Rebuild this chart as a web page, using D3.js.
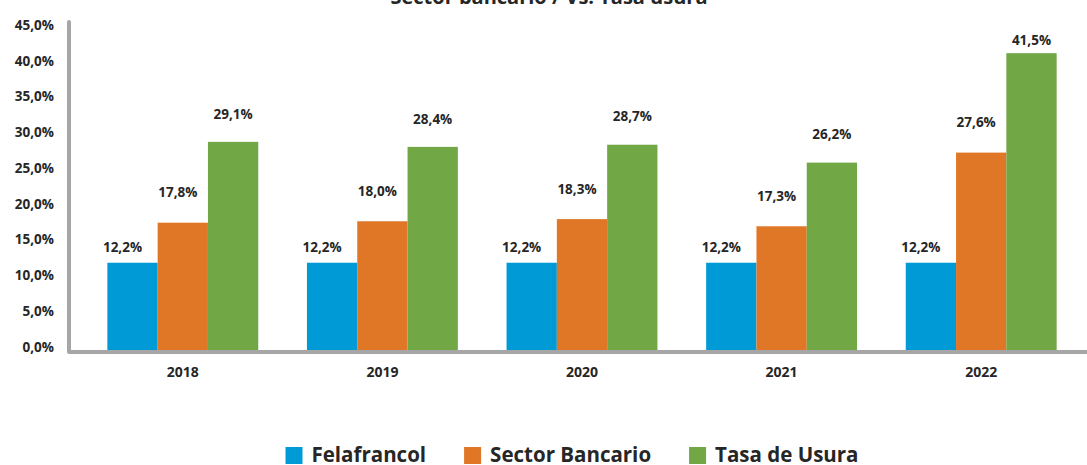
<!DOCTYPE html>
<html>
<head>
<meta charset="utf-8">
<script src="https://cdn.jsdelivr.net/npm/d3@7"></script>
<style>
  body { margin: 0; background: #fff; }
  text { font-family: "Open Sans", sans-serif; fill: #262626; }
</style>
</head>
<body>
<div id="container"></div>
<script>
const WIDTH = 1087;
const HEIGHT = 465;

// datos
const years = ['2018', '2019', '2020', '2021', '2022'];
const series = ['Felafrancol', 'Sector Bancario', 'Tasa de Usura'];
const felafrancol = [12.2, 12.2, 12.2, 12.2, 12.2];
const sectorBancario = [17.8, 18.0, 18.3, 17.3, 27.6];
const tasaUsura = [29.1, 28.4, 28.7, 26.2, 41.5];
const yTicks = [0, 5, 10, 15, 20, 25, 30, 35, 40, 45];
const title = 'Sector bancario / Vs. Tasa usura';

const COLORS = ['#009BD6', '#E07726', '#71A744'];
const LABEL_DX = [-10, -5, 0];
const LABEL_DY = [15, 30, 28];

const values = [felafrancol, sectorBancario, tasaUsura];
const rows = years.map((year, i) => ({
  year,
  vals: series.map((s, j) => ({ s, j, v: values[j][i] }))
}));

const fmt = v => d3.format('.1f')(v).replace('.', ',') + '%';

const svg = d3.select('#container')
  .append('svg')
    .attr('width', WIDTH)
    .attr('height', HEIGHT);

const x0 = d3.scaleBand().domain(years).range([83, 1081]);
const x1 = d3.scaleBand().domain(series)
  .range([x0.bandwidth() * 0.122, x0.bandwidth() * 0.878]);
const y = d3.scaleLinear().domain([0, 46]).range([350, 21]);

// titulo (cortado arriba)
svg.append('text')
  .attr('x', 549)
  .attr('y', 4)
  .attr('text-anchor', 'middle')
  .style('font-size', '20px')
  .style('font-weight', 700)
  .text(title);

// etiquetas eje y
svg.append('g')
  .selectAll('text')
  .data(yTicks)
  .join('text')
    .attr('x', 54)
    .attr('y', d => y(d) - 3)
    .attr('dy', '0.35em')
    .attr('text-anchor', 'end')
    .style('font-size', '13.5px')
    .style('font-weight', 700)
    .text(d => fmt(d));

// barras
const groups = svg.append('g')
  .selectAll('g')
  .data(rows)
  .join('g')
    .attr('transform', d => `translate(${x0(d.year)},0)`);

groups.selectAll('rect')
  .data(d => d.vals)
  .join('rect')
    .attr('x', d => x1(d.s))
    .attr('y', d => y(d.v))
    .attr('width', x1.bandwidth())
    .attr('height', d => y(0) - y(d.v))
    .attr('fill', d => COLORS[d.j]);

groups.selectAll('text')
  .data(d => d.vals)
  .join('text')
    .attr('x', d => x1(d.s) + x1.bandwidth() / 2 + LABEL_DX[d.j])
    .attr('y', d => Math.max(y(d.v) - LABEL_DY[d.j], 40))
    .attr('dy', '0.35em')
    .attr('text-anchor', 'middle')
    .style('font-size', '13.5px')
    .style('font-weight', 700)
    .text(d => fmt(d.v));

// ejes
svg.append('path')
  .attr('d', `M69,${y(46) + 1}V352H1092`)
  .attr('fill', 'none')
  .attr('stroke', '#A6A6A6')
  .attr('stroke-width', 4)
  .attr('stroke-linejoin', 'round')
  .attr('stroke-linecap', 'round');

svg.append('g')
  .selectAll('text')
  .data(years)
  .join('text')
    .attr('x', d => x0(d) + x0.bandwidth() / 2)
    .attr('y', 372)
    .attr('dy', '0.35em')
    .attr('text-anchor', 'middle')
    .style('font-size', '14px')
    .style('font-weight', 700)
    .text(d => d);

// leyenda
const legend = svg.append('g');
const items = legend.selectAll('g')
  .data(series)
  .join('g');

items.append('rect')
  .attr('y', 447)
  .attr('width', 17)
  .attr('height', 17)
  .attr('fill', (d, i) => COLORS[i]);

items.append('text')
  .attr('x', 26)
  .attr('y', 462)
  .style('font-size', '20.5px')
  .style('font-weight', 700)
  .text(d => d);

let cx = 0;
items.each(function () {
  const w = 26 + d3.select(this).select('text').node().getComputedTextLength();
  d3.select(this).attr('transform', `translate(${cx},0)`);
  cx += w + 38;
});
const total = cx - 38;
legend.attr('transform', `translate(${572 - total / 2},0)`);
</script>
</body>
</html>
